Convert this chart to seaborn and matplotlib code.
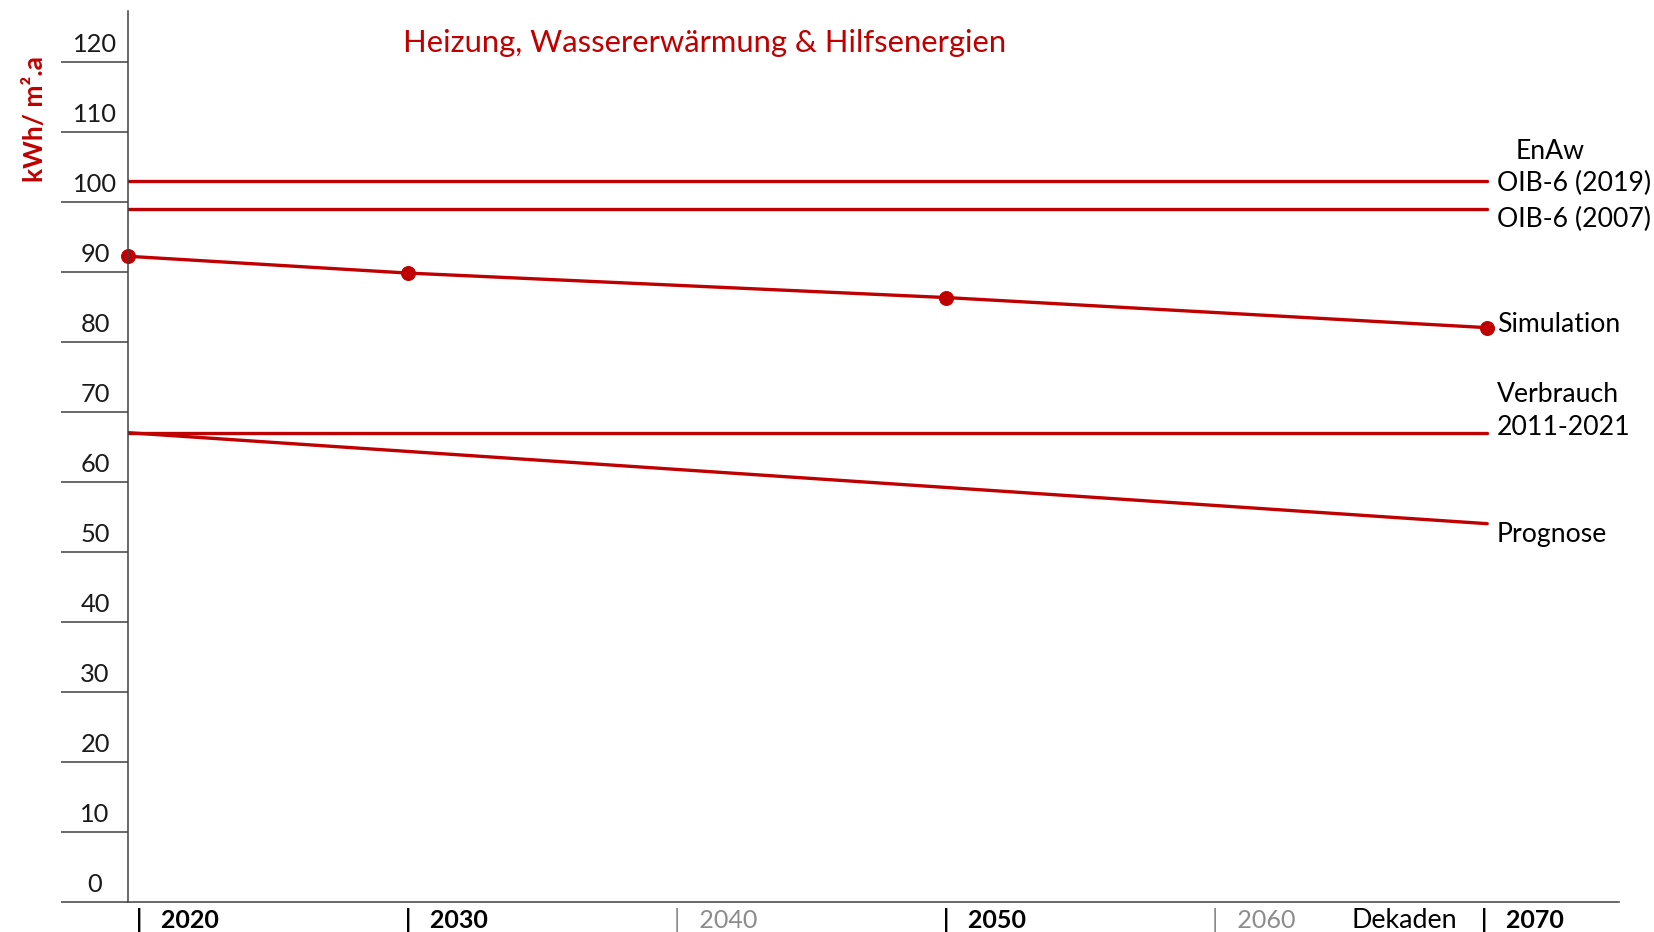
import numpy as np
import pandas as pd
import matplotlib
matplotlib.use("Agg")
import matplotlib.pyplot as plt
import seaborn as sns

# values (kWh/m².a)
sim_years = [2020, 2030.3, 2050.1, 2070]
sim_vals = [92.2, 89.8, 86.3, 82.0]
prog_years = [2020, 2070]
prog_vals = [67.0, 54.0]
verbrauch_years = [2020, 2070]
verbrauch_vals = [67.0, 67.0]
oib2019_years = [2020, 2070]
oib2019_vals = [102.9, 102.9]
oib2007_years = [2020, 2070]
oib2007_vals = [99.0, 99.0]

y_ticks = list(range(0, 121, 10))
decades = [2020, 2030, 2040, 2050, 2060, 2070]
decade_bold = [True, True, False, True, False, True]

sns.set_theme(style="white")
plt.rcParams['font.family'] = ['Lato', 'DejaVu Sans']

red = "#C00000"
axis_col = "#404040"

fig = plt.figure(figsize=(16.54, 9.32), dpi=100)
ax = fig.add_axes([0.0772, 0.0325, 0.9789 - 0.0772, 0.9887 - 0.0325])

lw = 2.4
sns.lineplot(x=oib2019_years, y=oib2019_vals, ax=ax, color=red, lw=lw)
sns.lineplot(x=oib2007_years, y=oib2007_vals, ax=ax, color=red, lw=lw)
sns.lineplot(x=verbrauch_years, y=verbrauch_vals, ax=ax, color=red, lw=lw)
sns.lineplot(x=prog_years, y=prog_vals, ax=ax, color=red, lw=lw)
sns.lineplot(x=sim_years, y=sim_vals, ax=ax, color=red, lw=lw,
             marker='o', markersize=10, markeredgecolor=red, clip_on=False)

ax.set_xlim(2020, 2074.85)
ax.set_ylim(0, 127.3)

for s in ['top', 'right']:
    ax.spines[s].set_visible(False)
for s in ['left', 'bottom']:
    ax.spines[s].set_color(axis_col)
    ax.spines[s].set_linewidth(1.1)

ax.set_yticks(y_ticks)
ax.tick_params(axis='y', length=47.9, width=1.1, color=axis_col,
               direction='out', labelleft=False, left=True)
ax.set_xticks([])
ax.set_xlabel("")
ax.set_ylabel("")

# y tick labels sit above the tick lines
for v in y_ticks:
    ax.text(2018.8, v + 2.5, str(v), ha='center', va='center',
            fontsize=18.3, color='#1a1a1a', clip_on=False)

# decade labels under the axis
for yr, b in zip(decades, decade_bold):
    ax.text(2020.3 + (yr - 2020) * 0.9895, -2.6, "|   " + str(yr), ha='left',
            va='center', fontsize=18, fontweight='bold' if b else 'normal',
            color='black' if b else '#8c8c8c', clip_on=False)
ax.text(2066.95, -2.7, "Dekaden", ha='center', va='center', fontsize=19.4,
        color='black', clip_on=False)

# series labels on the right
lab = dict(fontsize=19.2, color='black', va='center', ha='left', clip_on=False)
ax.text(2072.3, oib2019_vals[-1] + 4.3, "EnAw", fontsize=19.2, color='black',
        va='center', ha='center', clip_on=False)
ax.text(2070.35, oib2019_vals[-1] - 0.3, "OIB-6 (2019)", **lab)
ax.text(2070.35, oib2007_vals[-1] - 1.5, "OIB-6 (2007)", **lab)
ax.text(2070.35, sim_vals[-1] + 0.5, "Simulation", **lab)
ax.text(2070.35, verbrauch_vals[-1] + 5.5, "Verbrauch", **lab)
ax.text(2070.35, verbrauch_vals[-1] + 0.7, "2011-2021", **lab)
ax.text(2070.35, prog_vals[-1] - 1.5, "Prognose", **lab)

ax.text(2041.2, 122.6, "Heizung, Wassererwärmung & Hilfsenergien",
        ha='center', va='center', fontsize=22.3, color=red)

fig.text(35 / 1654, 1 - 119 / 932, "kWh/ m².a", rotation=90, ha='center',
         va='center', fontsize=19, fontweight='bold', color=red)

fig.savefig("out.png", dpi=100)
